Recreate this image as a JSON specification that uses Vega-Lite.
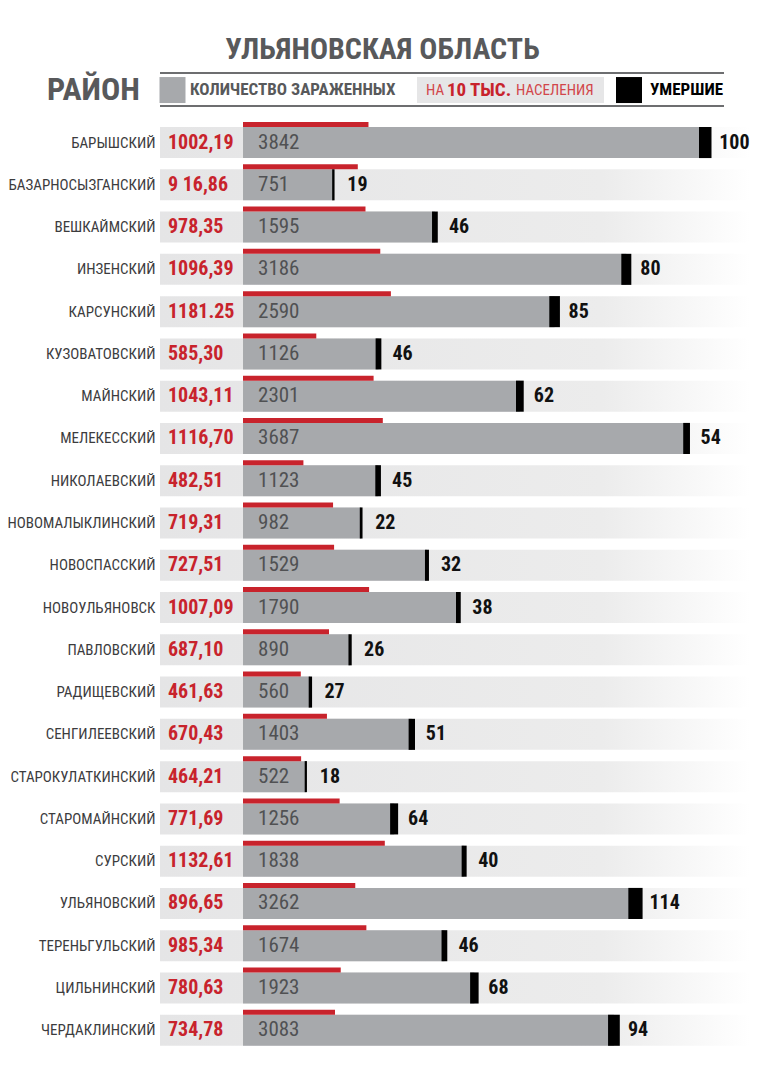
{
  "$schema": "https://vega.github.io/schema/vega-lite/v6.json",
  "background": "white",
  "autosize": "none",
  "padding": {"left": 160, "top": 121.4, "right": 20, "bottom": 28.6},
  "width": 590,
  "height": 930,
  "title": {
    "text": "УЛЬЯНОВСКАЯ ОБЛАСТЬ",
    "anchor": "middle",
    "frame": "bounds",
    "font": "Roboto Condensed, Roboto, sans-serif",
    "fontSize": 30,
    "fontWeight": "bold",
    "color": "#58595b",
    "offset": 7,
    "dx": 4
  },
  "config": {
    "view": {"stroke": null},
    "font": "Roboto Condensed, Roboto, sans-serif"
  },
  "datasets": {
    "header": [
      {"key": "district", "label": "РАЙОН"},
      {"key": "infected", "label": "КОЛИЧЕСТВО ЗАРАЖЕННЫХ"},
      {"key": "per_a", "label": "НА"},
      {"key": "per_b", "label": "10 ТЫС."},
      {"key": "per_c", "label": "НАСЕЛЕНИЯ"},
      {"key": "deaths", "label": "УМЕРШИЕ"}
    ],
    "districts": [
      {"district": "БАРЫШСКИЙ", "per10k": 1002.19, "per10k_label": "1002,19", "infected": 3842, "deaths": 100},
      {"district": "БАЗАРНОСЫЗГАНСКИЙ", "per10k": 916.86, "per10k_label": "9 16,86", "infected": 751, "deaths": 19},
      {"district": "ВЕШКАЙМСКИЙ", "per10k": 978.35, "per10k_label": "978,35", "infected": 1595, "deaths": 46},
      {"district": "ИНЗЕНСКИЙ", "per10k": 1096.39, "per10k_label": "1096,39", "infected": 3186, "deaths": 80},
      {"district": "КАРСУНСКИЙ", "per10k": 1181.25, "per10k_label": "1181.25", "infected": 2590, "deaths": 85},
      {"district": "КУЗОВАТОВСКИЙ", "per10k": 585.30, "per10k_label": "585,30", "infected": 1126, "deaths": 46},
      {"district": "МАЙНСКИЙ", "per10k": 1043.11, "per10k_label": "1043,11", "infected": 2301, "deaths": 62},
      {"district": "МЕЛЕКЕССКИЙ", "per10k": 1116.70, "per10k_label": "1116,70", "infected": 3687, "deaths": 54},
      {"district": "НИКОЛАЕВСКИЙ", "per10k": 482.51, "per10k_label": "482,51", "infected": 1123, "deaths": 45},
      {"district": "НОВОМАЛЫКЛИНСКИЙ", "per10k": 719.31, "per10k_label": "719,31", "infected": 982, "deaths": 22},
      {"district": "НОВОСПАССКИЙ", "per10k": 727.51, "per10k_label": "727,51", "infected": 1529, "deaths": 32},
      {"district": "НОВОУЛЬЯНОВСК", "per10k": 1007.09, "per10k_label": "1007,09", "infected": 1790, "deaths": 38},
      {"district": "ПАВЛОВСКИЙ", "per10k": 687.10, "per10k_label": "687,10", "infected": 890, "deaths": 26},
      {"district": "РАДИЩЕВСКИЙ", "per10k": 461.63, "per10k_label": "461,63", "infected": 560, "deaths": 27},
      {"district": "СЕНГИЛЕЕВСКИЙ", "per10k": 670.43, "per10k_label": "670,43", "infected": 1403, "deaths": 51},
      {"district": "СТАРОКУЛАТКИНСКИЙ", "per10k": 464.21, "per10k_label": "464,21", "infected": 522, "deaths": 18},
      {"district": "СТАРОМАЙНСКИЙ", "per10k": 771.69, "per10k_label": "771,69", "infected": 1256, "deaths": 64},
      {"district": "СУРСКИЙ", "per10k": 1132.61, "per10k_label": "1132,61", "infected": 1838, "deaths": 40},
      {"district": "УЛЬЯНОВСКИЙ", "per10k": 896.65, "per10k_label": "896,65", "infected": 3262, "deaths": 114},
      {"district": "ТЕРЕНЬГУЛЬСКИЙ", "per10k": 985.34, "per10k_label": "985,34", "infected": 1674, "deaths": 46},
      {"district": "ЦИЛЬНИНСКИЙ", "per10k": 780.63, "per10k_label": "780,63", "infected": 1923, "deaths": 68},
      {"district": "ЧЕРДАКЛИНСКИЙ", "per10k": 734.78, "per10k_label": "734,78", "infected": 3083, "deaths": 94}
    ]
  },
  "data": {"name": "districts"},
  "encoding": {
    "y": {
      "field": "district", "type": "nominal", "sort": null,
      "scale": {"paddingInner": 0, "paddingOuter": 0,
        "domain": ["БАРЫШСКИЙ", "БАЗАРНОСЫЗГАНСКИЙ", "ВЕШКАЙМСКИЙ", "ИНЗЕНСКИЙ", "КАРСУНСКИЙ", "КУЗОВАТОВСКИЙ", "МАЙНСКИЙ", "МЕЛЕКЕССКИЙ", "НИКОЛАЕВСКИЙ", "НОВОМАЛЫКЛИНСКИЙ", "НОВОСПАССКИЙ", "НОВОУЛЬЯНОВСК", "ПАВЛОВСКИЙ", "РАДИЩЕВСКИЙ", "СЕНГИЛЕЕВСКИЙ", "СТАРОКУЛАТКИНСКИЙ", "СТАРОМАЙНСКИЙ", "СУРСКИЙ", "УЛЬЯНОВСКИЙ", "ТЕРЕНЬГУЛЬСКИЙ", "ЦИЛЬНИНСКИЙ", "ЧЕРДАКЛИНСКИЙ"]},
      "axis": {"title": null, "domain": false, "ticks": false, "labelPadding": 5, "labelFontSize": 15, "labelColor": "#3c3c3e", "labelLimit": 300}
    }
  },
  "resolve": {"scale": {"x": "independent"}},
  "layer": [
    {
      "mark": {"type": "bar", "height": 31, "color": {"gradient": "linear", "x1": 0, "y1": 0, "x2": 1, "y2": 0, "stops": [{"offset": 0, "color": "#e5e5e6"}, {"offset": 0.75, "color": "#ececec"}, {"offset": 1, "color": "#ffffff"}]}},
      "encoding": {
        "x": {"datum": 0, "type": "quantitative", "scale": {"domain": [0, 1]}, "axis": null},
        "x2": {"datum": 1}
      }
    },
    {
      "mark": {"type": "bar", "height": 31, "color": "#a7a9ac"},
      "encoding": {
        "x": {"field": "infected", "type": "quantitative", "scale": {"domain": [-690, 4214], "nice": false, "zero": false}, "axis": null}
      }
    },
    {
      "mark": {"type": "bar", "height": 5, "yOffset": -18, "color": "#c8232c"},
      "encoding": {
        "x": {"field": "per10k", "type": "quantitative", "scale": {"domain": [-663, 4049.5], "nice": false, "zero": false}, "axis": null}
      }
    },
    {
      "mark": {"type": "rule", "color": "#000000"},
      "encoding": {
        "x": {"field": "infected", "type": "quantitative", "scale": {"domain": [-690, 4214], "nice": false, "zero": false}, "axis": null},
        "y": {"field": "district", "type": "nominal", "bandPosition": 0.1325},
        "y2": {"field": "district", "bandPosition": 0.8675},
        "strokeWidth": {"field": "deaths", "type": "quantitative", "scale": {"domain": [0, 114], "range": [0, 14.25]}, "legend": null}
      }
    },
    {
      "mark": {"type": "text", "align": "left", "baseline": "middle", "dx": 14, "fontSize": 20, "fontWeight": "bold", "color": "#111111"},
      "encoding": {
        "x": {"field": "infected", "type": "quantitative", "scale": {"domain": [-690, 4214], "nice": false, "zero": false}, "axis": null},
        "text": {"field": "deaths", "type": "quantitative", "format": "d"}
      }
    },
    {
      "mark": {"type": "text", "align": "left", "baseline": "middle", "dx": 15, "fontSize": 21, "color": "#505153"},
      "encoding": {
        "x": {"datum": 0, "type": "quantitative", "scale": {"domain": [-690, 4214], "nice": false, "zero": false}, "axis": null},
        "text": {"field": "infected", "type": "quantitative", "format": "d"}
      }
    },
    {
      "mark": {"type": "text", "align": "left", "baseline": "middle", "dx": -75, "fontSize": 20, "fontWeight": "bold", "color": "#c8232c"},
      "encoding": {
        "x": {"datum": 0, "type": "quantitative", "scale": {"domain": [-690, 4214], "nice": false, "zero": false}, "axis": null},
        "text": {"field": "per10k_label"}
      }
    },
    {
      "data": {"name": "header"},
      "transform": [{"filter": "datum.key === 'infected'"}],
      "layer": [
        {
          "mark": {"type": "rule", "color": "#6d6e70", "strokeWidth": 2, "yOffset": -69.5},
          "encoding": {
            "x": {"datum": 0, "type": "quantitative", "scale": {"domain": [0, 590]}, "axis": null},
            "x2": {"datum": 564},
            "y": {"datum": "БАРЫШСКИЙ", "type": "nominal"}
          }
        },
        {
          "mark": {"type": "rule", "color": "#6d6e70", "strokeWidth": 2, "yOffset": -36.5},
          "encoding": {
            "x": {"datum": 0, "type": "quantitative", "scale": {"domain": [0, 590]}, "axis": null},
            "x2": {"datum": 564},
            "y": {"datum": "БАРЫШСКИЙ", "type": "nominal"}
          }
        },
        {
          "mark": {"type": "square", "size": 676, "color": "#a7a9ac", "opacity": 1, "filled": true, "yOffset": -52.5},
          "encoding": {
            "x": {"datum": 12.5, "type": "quantitative", "scale": {"domain": [0, 590]}, "axis": null},
            "y": {"datum": "БАРЫШСКИЙ", "type": "nominal"}
          }
        },
        {
          "mark": {"type": "square", "size": 676, "color": "#000000", "opacity": 1, "filled": true, "yOffset": -52.5},
          "encoding": {
            "x": {"datum": 469, "type": "quantitative", "scale": {"domain": [0, 590]}, "axis": null},
            "y": {"datum": "БАРЫШСКИЙ", "type": "nominal"}
          }
        },
        {
          "mark": {"type": "point", "shape": "M-1,-0.139H1V0.139H-1Z", "size": 34969, "color": "#e6e6e7", "opacity": 1, "filled": true, "yOffset": -52.5},
          "encoding": {
            "x": {"datum": 350.5, "type": "quantitative", "scale": {"domain": [0, 590]}, "axis": null},
            "y": {"datum": "БАРЫШСКИЙ", "type": "nominal"}
          }
        }
      ]
    },
    {
      "data": {"name": "header"},
      "layer": [
        {
          "transform": [{"filter": "datum.key === 'infected'"}],
          "mark": {"type": "text", "align": "left", "baseline": "middle", "fontSize": 17, "fontWeight": "bold", "color": "#58595b", "yOffset": -52.5},
          "encoding": {
            "x": {"datum": 30, "type": "quantitative", "scale": {"domain": [0, 590]}, "axis": null},
            "y": {"datum": "БАРЫШСКИЙ", "type": "nominal"},
            "text": {"field": "label"}
          }
        },
        {
          "transform": [{"filter": "datum.key === 'per_a'"}],
          "mark": {"type": "text", "align": "left", "baseline": "middle", "fontSize": 15, "color": "#d2464b", "yOffset": -52.5},
          "encoding": {
            "x": {"datum": 266, "type": "quantitative", "scale": {"domain": [0, 590]}, "axis": null},
            "y": {"datum": "БАРЫШСКИЙ", "type": "nominal"},
            "text": {"field": "label"}
          }
        },
        {
          "transform": [{"filter": "datum.key === 'per_b'"}],
          "mark": {"type": "text", "align": "left", "baseline": "middle", "fontSize": 19, "fontWeight": "bold", "color": "#c8232c", "yOffset": -52.5},
          "encoding": {
            "x": {"datum": 287, "type": "quantitative", "scale": {"domain": [0, 590]}, "axis": null},
            "y": {"datum": "БАРЫШСКИЙ", "type": "nominal"},
            "text": {"field": "label"}
          }
        },
        {
          "transform": [{"filter": "datum.key === 'per_c'"}],
          "mark": {"type": "text", "align": "left", "baseline": "middle", "fontSize": 15, "color": "#d2464b", "yOffset": -52.5},
          "encoding": {
            "x": {"datum": 356, "type": "quantitative", "scale": {"domain": [0, 590]}, "axis": null},
            "y": {"datum": "БАРЫШСКИЙ", "type": "nominal"},
            "text": {"field": "label"}
          }
        },
        {
          "transform": [{"filter": "datum.key === 'deaths'"}],
          "mark": {"type": "text", "align": "left", "baseline": "middle", "fontSize": 17, "fontWeight": "bold", "color": "#000000", "yOffset": -52.5},
          "encoding": {
            "x": {"datum": 490, "type": "quantitative", "scale": {"domain": [0, 590]}, "axis": null},
            "y": {"datum": "БАРЫШСКИЙ", "type": "nominal"},
            "text": {"field": "label"}
          }
        },
        {
          "transform": [{"filter": "datum.key === 'district'"}],
          "mark": {"type": "text", "align": "left", "baseline": "middle", "fontSize": 32, "fontWeight": "bold", "color": "#58595b", "yOffset": -52.5},
          "encoding": {
            "x": {"datum": -113, "type": "quantitative", "scale": {"domain": [0, 590]}, "axis": null},
            "y": {"datum": "БАРЫШСКИЙ", "type": "nominal"},
            "text": {"field": "label"}
          }
        }
      ]
    }
  ]
}
